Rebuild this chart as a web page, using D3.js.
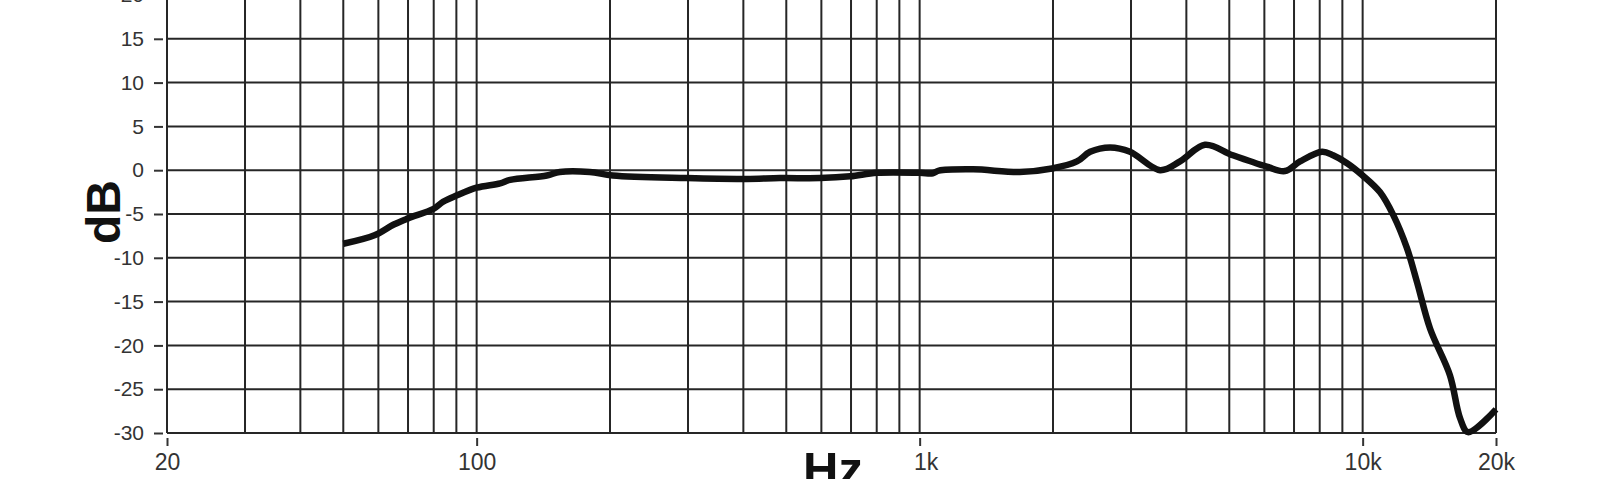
<!DOCTYPE html>
<html>
<head>
<meta charset="utf-8">
<script src="https://cdn.jsdelivr.net/npm/d3@7"></script>
<style>
  body { margin: 0; background: #fff; }
  svg { display: block; }
  text { font-family: "Liberation Sans", Arial, sans-serif; }
</style>
</head>
<body>
<div id="chart"></div>
<script>
// response curve
const freq = [50, 59, 65, 70, 80, 84, 90, 100, 113, 119, 144, 154, 180, 203, 298, 407, 484, 596, 697, 801,
  1000, 1071, 1105, 1320, 1683, 1990, 2265, 2426, 2691, 2985, 3490, 3871, 4406, 5095, 6078, 6677, 7222,
  8100, 8576, 9222, 10000, 10940, 11720, 12590, 13270, 14200, 15740, 16590, 17300, 20000];
const level = [-8.4, -7.4, -6.2, -5.5, -4.4, -3.6, -2.9, -2.0, -1.5, -1.1, -0.6, -0.2, -0.2, -0.6, -0.9, -1.0, -0.9, -0.9, -0.7, -0.3,
  -0.3, -0.35, -0.05, 0.1, -0.2, 0.2, 1.0, 2.1, 2.6, 2.1, 0.0, 1.0, 2.9, 1.7, 0.4, -0.1, 1.0,
  2.1, 1.7, 0.8, -0.6, -2.5, -5.1, -8.9, -12.8, -18.1, -23.4, -28.3, -29.9, -27.3];

const xTicks = [20, 100, 1000, 10000, 20000];
const xTickLabels = ["20", "100", "1k", "10k", "20k"];
const yTicks = [-30, -25, -20, -15, -10, -5, 0, 5, 10, 15, 20];

// grid every 10/100/1000 step
const xGrid = [];
[10, 100, 1000, 10000].forEach(d => {
  for (let i = 1; i < 10; i++) {
    const f = d * i;
    if (f >= 20 && f <= 20000) xGrid.push(f);
  }
});
xGrid.push(20000);

const W = 1600, H = 479;
const svg = d3.select("#chart").append("svg")
  .attr("width", W).attr("height", H);

const x = d3.scaleLog().domain([20, 20000]).range([167, 1496]);
const y = d3.scaleLinear().domain([-30, 20]).range([433, -5]);

const grid = svg.append("g")
  .attr("stroke", "#262626")
  .attr("stroke-width", 2);

grid.selectAll(".v")
  .data(xGrid)
  .join("line")
  .attr("x1", d => x(d)).attr("x2", d => x(d))
  .attr("y1", y(20)).attr("y2", y(-30));

grid.selectAll(".h")
  .data(yTicks)
  .join("line")
  .attr("x1", x(20)).attr("x2", x(20000))
  .attr("y1", d => y(d)).attr("y2", d => y(d));

// y axis: detached tick dashes
const yAxis = d3.axisLeft(y)
  .tickValues(yTicks)
  .tickSize(9)
  .tickPadding(10)
  .tickFormat(d3.format("d"));
const ya = svg.append("g")
  .attr("transform", `translate(${x(20) - 4},0)`)
  .call(yAxis);
ya.select(".domain").remove();
ya.selectAll(".tick line").attr("stroke", "#333").attr("stroke-width", 2);
ya.selectAll(".tick text")
  .attr("fill", "#333")
  .style("font-size", "21px")
  .text(d => String(d).replace("\u2212", "-"));

// x axis
const xAxis = d3.axisBottom(x)
  .tickValues(xTicks)
  .tickSize(8)
  .tickPadding(8)
  .tickFormat((d, i) => xTickLabels[i]);
const xa = svg.append("g")
  .attr("transform", `translate(0,${y(-30) + 5})`)
  .call(xAxis);
xa.select(".domain").remove();
xa.selectAll(".tick line").attr("stroke", "#333").attr("stroke-width", 2);
xa.selectAll(".tick text")
  .attr("fill", "#333")
  .style("font-size", "23px")
  .attr("dx", (d, i) => xTickLabels[i] === "1k" ? 6 : 0);

// curve
const line = d3.line()
  .x((d, i) => x(freq[i]))
  .y(d => y(d))
  .curve(d3.curveCatmullRom.alpha(0.5));

svg.append("path")
  .datum(level)
  .attr("fill", "none")
  .attr("stroke", "#111")
  .attr("stroke-width", 6.5)
  .attr("stroke-linejoin", "round")
  .attr("d", line);

// axis titles
svg.append("text")
  .attr("transform", "translate(120,212) rotate(-90)")
  .attr("text-anchor", "middle")
  .attr("fill", "#111")
  .style("font-size", "48px")
  .style("font-weight", "bold")
  .text("dB");

svg.append("text")
  .attr("x", 833).attr("y", 486)
  .attr("text-anchor", "middle")
  .attr("fill", "#111")
  .style("font-size", "49px")
  .style("font-weight", "bold")
  .text("Hz");
</script>
</body>
</html>
